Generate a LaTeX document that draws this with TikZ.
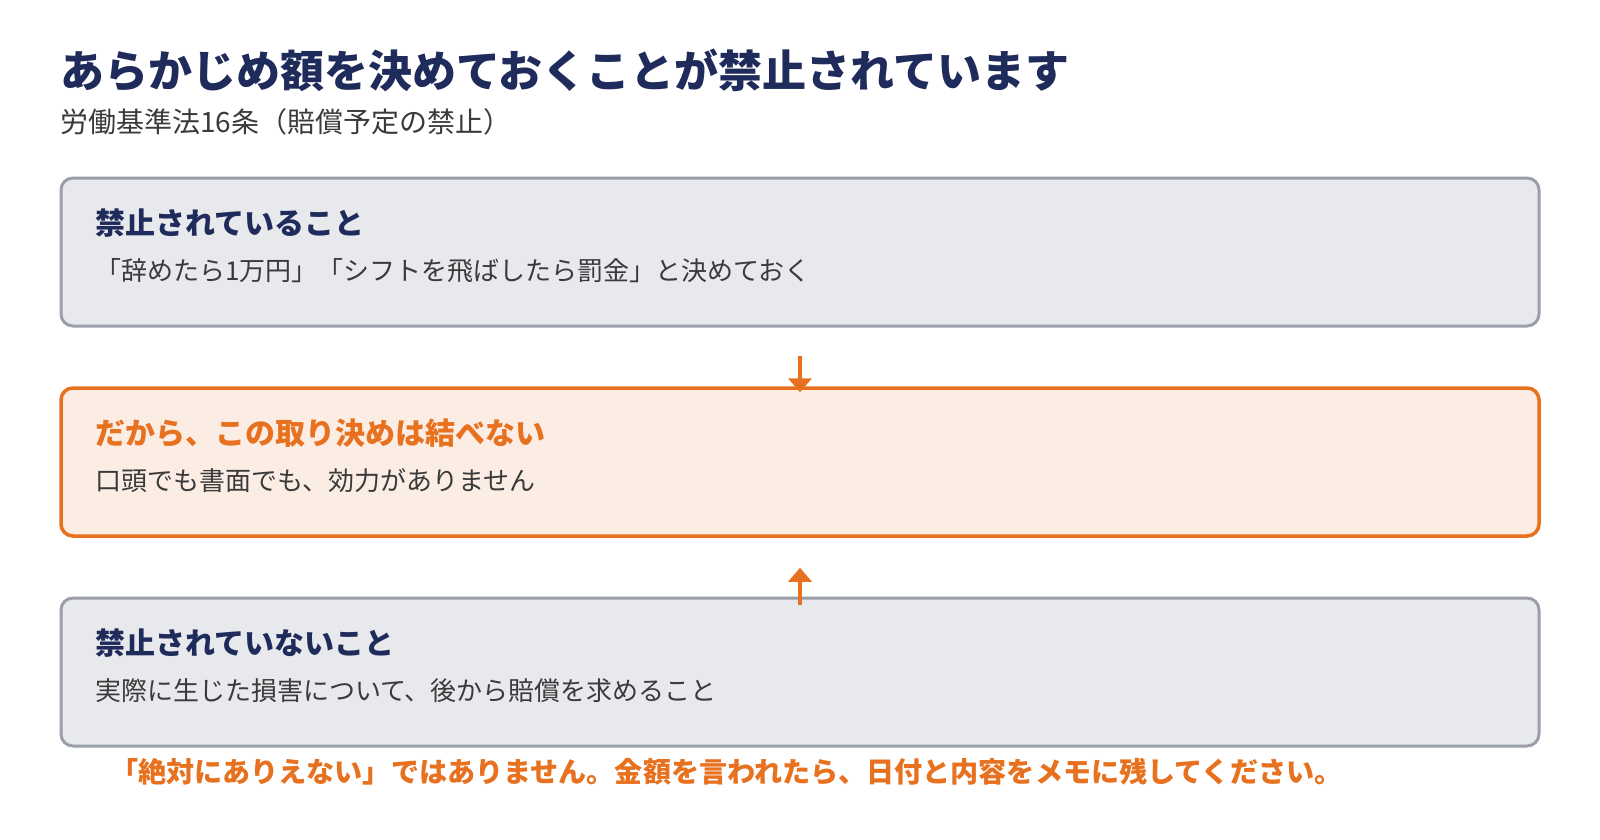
\documentclass[tikz,border=0pt]{standalone}
\usepackage{fontspec}
\setmainfont{Noto Sans CJK JP}
\usetikzlibrary{arrows.meta}
\definecolor{navy}{HTML}{1F2C5B}
\definecolor{bodygray}{HTML}{3A3A3A}
\definecolor{accent}{HTML}{E8711F}
\definecolor{boxgray}{HTML}{E8E9ED}
\definecolor{boxline}{HTML}{9A9FAA}
\definecolor{boxorange}{HTML}{FBEDE4}
\tikzset{
  panel/.style={draw=boxline, fill=boxgray, line width=3pt, rounded corners=12pt,
    minimum width=1478pt, minimum height=148pt, inner sep=0pt},
  hotpanel/.style={panel, draw=accent, fill=boxorange, line width=3.5pt},
  txt/.style={anchor=base west, inner sep=0pt, outer sep=0pt},
  titletxt/.style={txt, text=navy, font=\fontsize{44}{52}\selectfont\bfseries},
  subtxt/.style={txt, text=bodygray, font=\fontsize{28}{34}\selectfont},
  headtxt/.style={txt, text=navy, font=\fontsize{30}{36}\selectfont\bfseries},
  hotheadtxt/.style={headtxt, text=accent},
  bodytxt/.style={txt, text=bodygray, font=\fontsize{26}{32}\selectfont},
  notetxt/.style={txt, text=accent, font=\fontsize{28.1}{34}\selectfont\bfseries},
  flow/.style={draw=accent, line width=4.5pt, -{Triangle[length=14pt,width=23pt]}}
}
\begin{document}
\begin{tikzpicture}[x=1pt,y=-1pt]
\useasboundingbox[fill=white] (0,0) rectangle (1600,840);
% title
\node[titletxt] (title) at (60,88) {あらかじめ額を決めておくことが禁止されています};
\node[subtxt] (sub) at (60,132) {労働基準法16条（賠償予定の禁止）};
% panels
\node[panel] (box1) at (800,252) {};
\node[hotpanel] (box2) at (800,462) {};
\node[panel] (box3) at (800,672) {};
% panel texts
\node[headtxt] (h1) at (95,234) {禁止されていること};
\node[bodytxt] (b1) at (95,280) {「辞めたら1万円」「シフトを飛ばしたら罰金」と決めておく};
\node[hotheadtxt] (h2) at (95,444) {だから、この取り決めは結べない};
\node[bodytxt] (b2) at (95,490) {口頭でも書面でも、効力がありません};
\node[headtxt] (h3) at (95,654) {禁止されていないこと};
\node[bodytxt] (b3) at (95,700) {実際に生じた損害について、後から賠償を求めること};
% note
\node[notetxt] (note) at (110,782) {「絶対にありえない」ではありません。金額を言われたら、日付と内容をメモに残してください。};
% arrows
\coordinate (a1s) at (800,356);
\coordinate (a2s) at (800,605);
\draw[flow] (a1s) -- ([yshift=-6pt]box2.north);
\draw[flow] (a2s) -- ([yshift=-30pt]box2.south);
\end{tikzpicture}
\end{document}
